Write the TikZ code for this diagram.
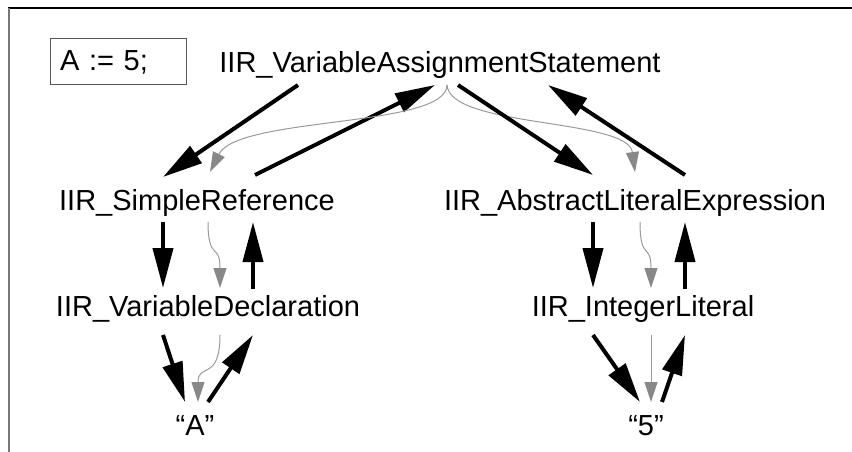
\documentclass[tikz,border=0pt]{standalone}
\usepackage{fontspec}
\setmainfont{Liberation Sans}
\usetikzlibrary{arrows.meta}
\definecolor{thinline}{HTML}{9A9A9A}
\definecolor{headgray}{HTML}{888888}
\definecolor{framegray}{HTML}{777777}
\definecolor{boxgray}{HTML}{555555}
\tikzset{
  lbl/.style={anchor=base, inner sep=0pt, font=\fontsize{29}{34}\selectfont},
  bigarrow/.style={line width=4pt, -{Triangle[length=40pt,width=20pt]}},
  smallarrow/.style={draw=thinline, line width=1pt, -{Triangle[length=20pt,width=13pt,color=headgray,fill=headgray]}},
}
\begin{document}
\begin{tikzpicture}[x=1pt,y=-1pt]
\useasboundingbox (0,0) rectangle (852,452);
% frame
\draw[black, line width=1.6pt] (8,8) -- (852,8);
\draw[framegray, line width=1.6pt] (8.8,8) -- (8.8,452);
% nodes
\node[draw=boxgray, line width=1pt, minimum width=136pt, minimum height=46pt, text width=116pt, inner xsep=10pt, align=left, font=\fontsize{29}{34}\selectfont] (code) at (118,62) {A := 5;};
\node[lbl] (stmt) at (440,73) {IIR\_VariableAssignmentStatement};
\node[lbl] (sref) at (197,210) {IIR\_SimpleReference};
\node[lbl] (ale) at (635,210) {IIR\_AbstractLiteralExpression};
\node[lbl] (vdecl) at (208,316) {IIR\_VariableDeclaration};
\node[lbl] (ilit) at (643,316) {IIR\_IntegerLiteral};
\node[lbl] (qa) at (195,435) {“A”};
\node[lbl] (q5) at (646,435) {“5”};
% connector end points
\coordinate (s1) at (298,85);  \coordinate (r1) at (163,177);
\coordinate (r2) at (255,175); \coordinate (s2) at (435,85);
\coordinate (s3) at (447,85);  \coordinate (r3) at (210,172);
\coordinate (a3) at (635,172);
\coordinate (s4) at (458,85);  \coordinate (a4) at (593,175);
\coordinate (a5) at (685,175); \coordinate (s5) at (548,85);
% left column
\coordinate (rd1) at (163,222); \coordinate (vd1) at (163,288);
\coordinate (rd2) at (208,222); \coordinate (vd2) at (220,288);
\coordinate (vd3) at (253,289); \coordinate (rd3) at (253,222);
\coordinate (vq1) at (163,335); \coordinate (qa1) at (185,402);
\coordinate (vq2) at (220,335); \coordinate (qa2) at (198,402);
\coordinate (qa3) at (208,402); \coordinate (vq3) at (253,335);
% right column
\coordinate (ai1) at (593,222); \coordinate (il1) at (593,288);
\coordinate (ai2) at (640,222); \coordinate (il2) at (651,288);
\coordinate (il3) at (685,289); \coordinate (ai3) at (685,222);
\coordinate (iq1) at (593,335); \coordinate (q51) at (640,402);
\coordinate (iq2) at (651,335); \coordinate (q52) at (651,402);
\coordinate (q53) at (662,402); \coordinate (iq3) at (685,335);
% top arrows
\draw[bigarrow] (s1) -- (r1);
\draw[bigarrow] (r2) -- (s2);
\draw[smallarrow] (s3) .. controls (447,128) and (238,116) .. (r3);
\draw[smallarrow] (s3) .. controls (450,128) and (628,118) .. (a3);
\draw[bigarrow] (s4) -- (a4);
\draw[bigarrow] (a5) -- (s5);
% left column arrows
\draw[bigarrow] (rd1) -- (vd1);
\draw[smallarrow] (rd2) .. controls (208,262) and (220,242) .. (vd2);
\draw[bigarrow] (vd3) -- (rd3);
\draw[bigarrow] (vq1) -- (qa1);
\draw[smallarrow] (vq2) .. controls (220,382) and (198,362) .. (qa2);
\draw[bigarrow] (qa3) -- (vq3);
% right column arrows
\draw[bigarrow] (ai1) -- (il1);
\draw[smallarrow] (ai2) .. controls (640,262) and (651,242) .. (il2);
\draw[bigarrow] (il3) -- (ai3);
\draw[bigarrow] (iq1) -- (q51);
\draw[smallarrow] (iq2) -- (q52);
\draw[bigarrow] (q53) -- (iq3);
\end{tikzpicture}
\end{document}
